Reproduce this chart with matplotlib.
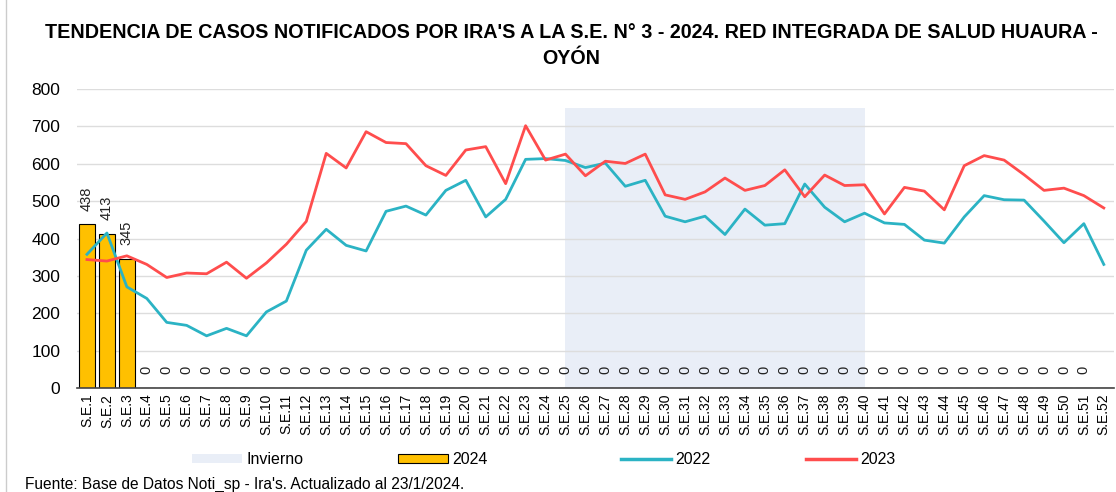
import matplotlib
matplotlib.use('Agg')
import matplotlib.pyplot as plt
import numpy as np
from matplotlib.patches import Patch
from matplotlib.lines import Line2D

plt.rcParams['font.family'] = ['Liberation Sans', 'DejaVu Sans']

semanas = ['S.E.%d' % i for i in range(1, 53)]

casos_2024 = [438, 413, 345] + [0] * 48 + [None]

casos_2022 = [358, 415, 271, 240, 176, 168, 140, 160, 140, 204,
              233, 369, 425, 382, 367, 473, 487, 463, 529, 556,
              458, 505, 612, 614, 609, 590, 602, 540, 556, 460,
              445, 460, 411, 479, 436, 440, 546, 484, 445, 468,
              442, 438, 396, 388, 458, 515, 504, 503, 447, 389,
              440, 331]

casos_2023 = [344, 340, 354, 331, 296, 308, 306, 337, 294, 335,
              385, 446, 628, 589, 686, 657, 654, 595, 569, 637,
              646, 547, 702, 610, 626, 568, 607, 601, 626, 517,
              505, 525, 562, 529, 542, 584, 512, 570, 542, 544,
              466, 537, 527, 477, 595, 622, 610, 571, 529, 535,
              515, 482]

# invierno: S.E.25 a S.E.40
invierno_ini = 'S.E.25'
invierno_fin = 'S.E.40'
invierno_alto = 750

col_2024 = '#FFC000'
col_2022 = '#2BB3C4'
col_2023 = '#FF4D4D'
col_inv = '#E9EEF7'

fig = plt.figure(figsize=(11.16, 4.92), dpi=100)
ax = fig.add_axes([0.069, 0.211, 0.929, 0.608])

x = np.arange(len(semanas))
i0 = semanas.index(invierno_ini)
i1 = semanas.index(invierno_fin)
ax.fill_between([i0, i1], 0, invierno_alto, color=col_inv, lw=0, zorder=0)

vals = np.array([np.nan if v is None else v for v in casos_2024], dtype=float)
bars = ax.bar(x, np.nan_to_num(vals), width=0.78, color=col_2024,
              edgecolor='black', linewidth=0.8, zorder=2)
for i, v in enumerate(casos_2024):
    if v is None:
        continue
    ax.annotate(str(v), (x[i], v), xytext=(0, 10), textcoords='offset points',
                rotation=90, ha='center', va='bottom', fontsize=10.5, color='#222222')

ax.plot(x, casos_2022, color=col_2022, lw=2, zorder=3)
ax.plot(x, casos_2023, color=col_2023, lw=2, zorder=3)

ax.set_xlim(-0.5, len(semanas) - 0.5)
ax.set_ylim(0, 800)
ax.set_yticks(range(0, 801, 100))
ax.yaxis.grid(True, color='#DDDDDD', lw=1)
ax.set_axisbelow(True)
ax.set_xticks(x)
ax.set_xticklabels(semanas, rotation=90, fontsize=10)
ax.tick_params(axis='both', length=0)
ax.tick_params(axis='y', labelsize=12.5, pad=12)
ax.tick_params(axis='x', pad=4)
for s in ['top', 'right', 'left']:
    ax.spines[s].set_visible(False)
ax.spines['bottom'].set_color('#444444')
ax.spines['bottom'].set_linewidth(1.2)

fig.text(0.512, 0.933, "TENDENCIA DE CASOS NOTIFICADOS POR IRA'S A LA S.E. N° 3 - 2024. RED INTEGRADA DE SALUD HUAURA -",
         ha='center', va='center', fontsize=14.2, fontweight='bold')
fig.text(0.512, 0.882, "OYÓN", ha='center', va='center', fontsize=14.2, fontweight='bold')

# leyenda, cada entrada en su sitio
handles = [Patch(facecolor=col_inv, edgecolor='none'),
           Patch(facecolor=col_2024, edgecolor='black', linewidth=0.8),
           Line2D([0], [0], color=col_2022, lw=2.5),
           Line2D([0], [0], color=col_2023, lw=2.5)]
labels = ['Invierno', '2024', '2022', '2023']
pos_x = [192, 398, 621, 806]
for h, lab, px in zip(handles, labels, pos_x):
    fig.legend([h], [lab], loc='center left', bbox_to_anchor=(px / 1116, 0.066),
               frameon=False, fontsize=11.5, handlelength=3.1, handleheight=0.5,
               handletextpad=0.3, borderpad=0, borderaxespad=0)

fig.text(0.022, 0.016, "Fuente: Base de Datos Noti_sp - Ira's. Actualizado al 23/1/2024.",
         ha='left', va='center', fontsize=11.2)

fig.add_artist(Line2D([0.005, 0.005], [0, 1], transform=fig.transFigure,
                      color='#CCCCCC', lw=1))

fig.savefig('out.png', dpi=100)
